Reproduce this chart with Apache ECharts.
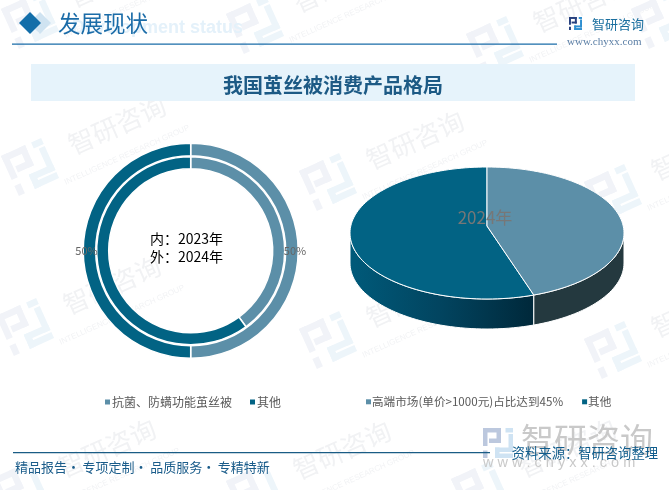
<!DOCTYPE html>
<html>
<head>
<meta charset="utf-8">
<style>html,body{margin:0;padding:0;background:#fff}#main{width:669px;height:490px}</style>
<script src="https://cdn.jsdelivr.net/npm/echarts@6/dist/echarts.min.js"></script>
</head>
<body>
<div id="main"></div>
<script>
// data
var productNames = ["抗菌、防螨功能茧丝被", "其他"];
var outer2024 = [50, 50];
var inner2023 = [40, 60];
var marketNames = ["高端市场(单价>1000元)占比达到45%", "其他"];
var market2024 = [45, 55];

var LIGHT = "#5c8fa8", DARK = "#026384";
var FONT = "'Noto Sans CJK SC','Noto Sans',sans-serif";
var chart = echarts.init(document.getElementById("main"), null, {renderer: "canvas"});

// logo made of bars, size is the width of the square
function logo(x, y, size, rot, c1, c2) {
    var u = size / 20, kids = [];
    [[0,0,12,3],[9,0,3,10],[4,7,8,3],[0,0,3,12],[0,15,3,5]].forEach(function (r) {
        kids.push({type: "rect", shape: {x: r[0]*u, y: r[1]*u, width: r[2]*u, height: r[3]*u}, style: {fill: c1}, silent: true});
    });
    [[15,0,5,3],[17,4,3,12],[8,13,12,3],[8,13,3,7],[8,17,12,3]].forEach(function (r) {
        kids.push({type: "rect", shape: {x: r[0]*u, y: r[1]*u, width: r[2]*u, height: r[3]*u}, style: {fill: c2}, silent: true});
    });
    return {type: "group", x: x, y: y, rotation: rot, originX: size/2, originY: size/2, children: kids, silent: true};
}

// faint background watermark, x/y = centre of the logo
function watermark(x, y) {
    var rot = 0.42;
    return [
        logo(x - 22, y - 22, 44, rot, "#f1f3f8", "#edf5fa"),
        {type: "text", x: x + 87, y: y - 42, rotation: rot, silent: true,
            style: {text: "智研咨询", fill: "#f1f2f4", font: "26px " + FONT, letterSpacing: 3, align: "center", verticalAlign: "middle"}},
        {type: "text", x: x + 97, y: y - 12, rotation: rot, silent: true,
            style: {text: "INTELLIGENCE RESEARCH GROUP", fill: "#f2f3f5", font: "8px 'Liberation Sans'", align: "center", verticalAlign: "middle"}}
    ];
}

var graphics = [];
[[30,20],[255,25],[495,45],[660,20],[30,167],[328,182],[613,193],[25,327],[328,340],[613,350],[20,490],[255,492],[480,490]].forEach(function (p) {
    graphics = graphics.concat(watermark(p[0], p[1]));
});

graphics.push(
    // header
    {type: "text", x: 243, y: 28, silent: true, style: {text: "Development status", fill: "#e4f1fa", font: "bold 18px 'Liberation Sans'", align: "right", verticalAlign: "middle"}},
    {type: "polygon", shape: {points: [[40,12],[51,23],[40,34],[29,23]]}, style: {fill: "#cfe3f1"}, silent: true},
    {type: "polygon", shape: {points: [[30,12],[41,23],[30,34],[19,23]]}, style: {fill: "#136ea9"}, silent: true},
    {type: "text", x: 58, y: 23, silent: true, style: {text: "发展现状", fill: "#1b6ca8", font: "22.5px " + FONT, verticalAlign: "middle"}},
    {type: "rect", shape: {x: 12, y: 43.5, width: 545, height: 1.2}, style: {fill: "#1a6ca8"}, silent: true},
    logo(569, 17, 13, 0, "#27417f", "#2f8fd0"),
    {type: "text", x: 592, y: 24, silent: true, style: {text: "智研咨询", fill: "#1a6f9f", font: "13px " + FONT, verticalAlign: "middle"}},
    {type: "text", x: 567, y: 42, silent: true, style: {text: "www.chyxx.com", fill: "#5a7ea5", font: "11px 'Liberation Serif'", letterSpacing: 0.4, verticalAlign: "middle"}},
    {type: "rect", shape: {x: 31, y: 64, width: 604, height: 37}, style: {fill: "#e6f3fb"}, silent: true},
    {type: "text", x: 333, y: 85, silent: true, style: {text: "我国茧丝被消费产品格局", fill: "#1d5a85", font: "bold 20px " + FONT, align: "center", verticalAlign: "middle"}},
    // footer
    logo(483, 428, 30, 0, "#bcc8de", "#cfe3f3"),
    {type: "text", x: 521, y: 439, silent: true, style: {text: "智研咨询", fill: "#c9c9c9", font: "33px " + FONT, verticalAlign: "middle"}},
    {type: "text", x: 483, y: 463, silent: true, style: {text: "w w w . c h y x x . c o m", fill: "#c9c9c9", font: "14.5px 'Liberation Sans'", verticalAlign: "middle"}},
    {type: "rect", shape: {x: 13, y: 452, width: 477, height: 1.2}, style: {fill: "#1a5c85"}, silent: true},
    {type: "text", x: 15, y: 467, silent: true, style: {text: "精品报告·\u2009专项定制·\u2009品质服务·\u2009专精特新", fill: "#1a5c8a", font: "13px " + FONT, verticalAlign: "middle"}},
    {type: "text", x: 658, y: 453, z: 5, silent: true, style: {text: "资料来源：智研咨询整理", fill: "#0f5c8c", font: "13.3px " + FONT, align: "right", verticalAlign: "middle"}}
);

// rim of the tilted pie, angles in degrees clockwise from the top.
// k pulls the pie's centre towards the back, as a perspective view does
function arcPoints(cx, cy, rx, ry, k, from, to) {
    var pts = [], n = Math.max(2, Math.ceil(Math.abs(to - from) / 2));
    for (var i = 0; i <= n; i++) {
        var a = (from + (to - from) * i / n) * Math.PI / 180;
        var u = Math.sin(a), v = Math.cos(a), d = 1 + k * v;
        pts.push([cx + rx * Math.sqrt(1 - k * k) * u / d, cy - ry * (v + k) / d]);
    }
    return pts;
}

function sliceSeries(index, color, wallColor) {
    return {
        type: "custom",
        name: marketNames[index],
        coordinateSystem: "none",
        z: 3 + (index === 0 ? 1 : 0),
        data: [[market2024[index]]],
        itemStyle: {color: color},
        silent: true,
        renderItem: function () {
            var cx = 487, cy = 233, rx = 137, ry = 66, apexY = 226, depth = 30;
            var k = (cy - apexY) / ry;
            var edge = Math.acos(-k) * 180 / Math.PI;
            var total = market2024.reduce(function (s, v) { return s + v; }, 0);
            var start = 0;
            for (var i = 0; i < index; i++) start += market2024[i] / total * 360;
            var end = start + market2024[index] / total * 360;
            var kids = [];
            // front wall only shows between the two side extremes of the rim
            var f = Math.max(start, edge), t = Math.min(end, 360 - edge);
            if (t > f) {
                var top = arcPoints(cx, cy, rx, ry, k, f, t);
                var bottom = arcPoints(cx, cy + depth, rx, ry, k, t, f);
                kids.push({type: "polygon", shape: {points: top.concat(bottom)},
                    style: {fill: wallColor, stroke: "#fff", lineWidth: 1}});
            }
            var pts = [[cx, apexY]].concat(arcPoints(cx, cy, rx, ry, k, start, end));
            kids.push({type: "polygon", shape: {points: pts},
                style: {fill: color, stroke: "#fff", lineWidth: 1}});
            return {type: "group", children: kids};
        }
    };
}

function ringData(values) {
    return productNames.map(function (n, i) {
        return {name: n, value: values[i], itemStyle: {color: i === 0 ? LIGHT : DARK}};
    });
}

var wallGradient = new echarts.graphic.LinearGradient(0, 0, 1, 0, [
    {offset: 0, color: "#005a7a"}, {offset: 0.5, color: "#02445f"}, {offset: 1, color: "#00283a"}
]);

var option = {
    animation: false,
    backgroundColor: "#fff",
    textStyle: {fontFamily: FONT},
    title: [
        {text: "内：2023年\n外：2024年", left: 181.5, top: 225, textAlign: "center", z: 6,
            textStyle: {fontSize: 14, fontWeight: "normal", color: "#000", lineHeight: 18, fontFamily: FONT}},
        {text: "2024年", left: 480, top: 204, textAlign: "center", z: 6,
            textStyle: {fontSize: 17, fontWeight: "normal", color: "#777", fontFamily: FONT}}
    ],
    legend: [
        {data: productNames, left: 105, top: 396, padding: 0, icon: "rect", itemWidth: 5, itemHeight: 5, itemGap: 18,
            selectedMode: false, itemStyle: {borderWidth: 0}, textStyle: {fontSize: 12, color: "#595959", padding: [0, 0, 0, -3]}},
        {data: marketNames, left: 366, top: 396, padding: 0, icon: "rect", itemWidth: 5, itemHeight: 5, itemGap: 19,
            selectedMode: false, itemStyle: {borderWidth: 0}, textStyle: {fontSize: 11.6, color: "#595959", padding: [0, 0, 0, -4]}}
    ],
    graphic: {elements: graphics},
    series: [
        {type: "pie", name: "2024年", center: [190.7, 250.7], radius: [95, 107.5], startAngle: 90, z: 2, silent: true,
            data: ringData(outer2024), itemStyle: {borderColor: "#fff", borderWidth: 1.5},
            label: {show: true, position: "inside", formatter: "{d}%", color: "#666", fontSize: 11},
            labelLine: {show: false}},
        {type: "pie", name: "2023年", center: [190.7, 250.7], radius: [82, 94], startAngle: 90, z: 2, silent: true,
            data: ringData(inner2023), itemStyle: {borderColor: "#fff", borderWidth: 1.5},
            label: {show: false}, labelLine: {show: false}},
        sliceSeries(0, LIGHT, "#24393f"),
        sliceSeries(1, DARK, wallGradient)
    ]
};
chart.setOption(option);
</script>
</body>
</html>
